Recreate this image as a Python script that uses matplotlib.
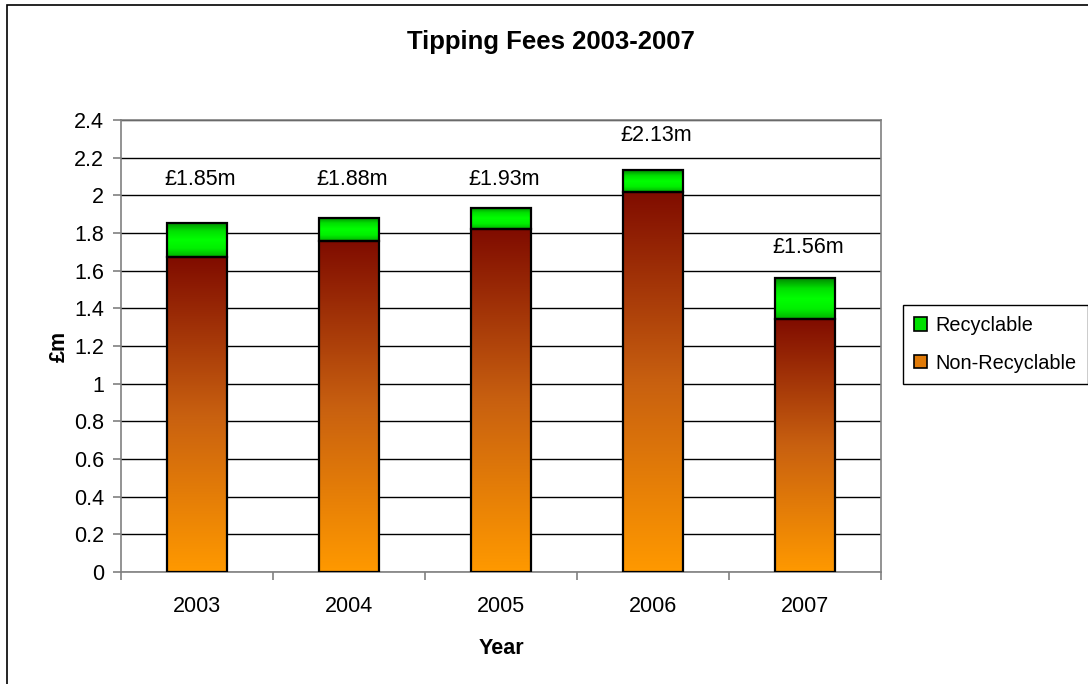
import numpy as np
import matplotlib
matplotlib.use("Agg")
import matplotlib.pyplot as plt
from matplotlib.colors import LinearSegmentedColormap
from matplotlib.patches import Patch, Rectangle

plt.rcParams['font.family'] = ['Liberation Sans', 'DejaVu Sans']

years = ['2003', '2004', '2005', '2006', '2007']
non_recyclable = [1.67, 1.755, 1.82, 2.02, 1.345]
recyclable = [0.183, 0.127, 0.112, 0.115, 0.215]
total_labels = ['£1.85m', '£1.88m', '£1.93m', '£2.13m', '£1.56m']
label_heights = [2.055, 2.055, 2.055, 2.29, 1.693]
y_ticks = [0, 0.2, 0.4, 0.6, 0.8, 1, 1.2, 1.4, 1.6, 1.8, 2, 2.2, 2.4]

W, H = 1088, 684
FS = 15.5
fig = plt.figure(figsize=(W / 100, H / 100), dpi=100)
fig.patch.set_facecolor('white')

# outer chart border
fig.add_artist(Rectangle((7 / W, -0.05), 1.2, 1 - 5 / H + 0.05, transform=fig.transFigure,
                         fill=False, edgecolor='black', linewidth=1.2))

left, right, top, bottom = 121, 881, 120, 572
ax = fig.add_axes([left / W, 1 - bottom / H, (right - left) / W, (bottom - top) / H])

x = np.arange(len(years))
bw = 0.4
ax.set_xlim(-0.5, len(years) - 0.5)
ax.set_ylim(0, 2.4)

cm_nonrec = LinearSegmentedColormap.from_list('nr', ['#FF9900', '#C86010', '#800C00'])
cm_rec = LinearSegmentedColormap.from_list('rc', ['#00B000', '#00F000', '#00FF00', '#00E000', '#008800'])

bars1 = ax.bar(x, non_recyclable, bw, facecolor='none', edgecolor='black', linewidth=1.6, zorder=4)
bars2 = ax.bar(x, recyclable, bw, bottom=non_recyclable, facecolor='none', edgecolor='black',
               linewidth=1.6, zorder=4)

grad = np.linspace(0, 1, 256).reshape(-1, 1)
for bars, cmap in ((bars1, cm_nonrec), (bars2, cm_rec)):
    for b in bars:
        x0, y0, w, h = b.get_x(), b.get_y(), b.get_width(), b.get_height()
        im = ax.imshow(grad, cmap=cmap, origin='lower', aspect='auto',
                       extent=(x0, x0 + w, y0, y0 + h), zorder=3, interpolation='bilinear')
        im.set_clip_path(b)

for xi, lab, yl in zip(x, total_labels, label_heights):
    ax.text(xi + 0.02, yl, lab, ha='center', va='baseline', fontsize=FS, zorder=5)

ax.set_yticks(y_ticks)
ax.set_yticklabels([f'{v:g}' for v in y_ticks])
ax.yaxis.grid(True, color='black', linewidth=1.0, zorder=0)
ax.set_axisbelow(True)

ax.set_xticks(np.arange(len(years) + 1) - 0.5)
ax.set_xticklabels([])
ax.set_xticks(x, minor=True)
ax.set_xticklabels(years, minor=True)
ax.tick_params(axis='x', which='major', length=6, color='#808080', width=1.2)
ax.tick_params(axis='x', which='minor', length=0, pad=17, labelsize=FS)
ax.tick_params(axis='y', length=6, color='#808080', width=1.2, labelsize=FS, pad=6)

for s in ax.spines.values():
    s.set_color('#808080')
    s.set_linewidth(1.2)

ax.set_xlabel('Year', fontsize=FS, fontweight='bold')
ax.xaxis.set_label_coords(0.5, -0.146)
ax.set_ylabel('£m', fontsize=FS, fontweight='bold')
ax.yaxis.set_label_coords(-0.067, 0.5)

fig.text(551 / W, 1 - 42 / H, 'Tipping Fees 2003-2007', ha='center', va='center',
         fontsize=18.5, fontweight='bold')

handles = [Patch(facecolor='#00E000', edgecolor='black', linewidth=1.2, label='Recyclable'),
           Patch(facecolor='#E07A08', edgecolor='black', linewidth=1.2, label='Non-Recyclable')]
leg = fig.legend(handles=handles, loc='upper left', bbox_to_anchor=(903 / W, 1 - 305 / H),
                 fontsize=14.3, frameon=True, fancybox=False, framealpha=1, edgecolor='black',
                 handlelength=0.65, handleheight=0.65, handletextpad=0.45, labelspacing=0.95,
                 borderpad=0.55, borderaxespad=0)
leg.get_frame().set_linewidth(1.0)

fig.savefig('out.png', dpi=100)
